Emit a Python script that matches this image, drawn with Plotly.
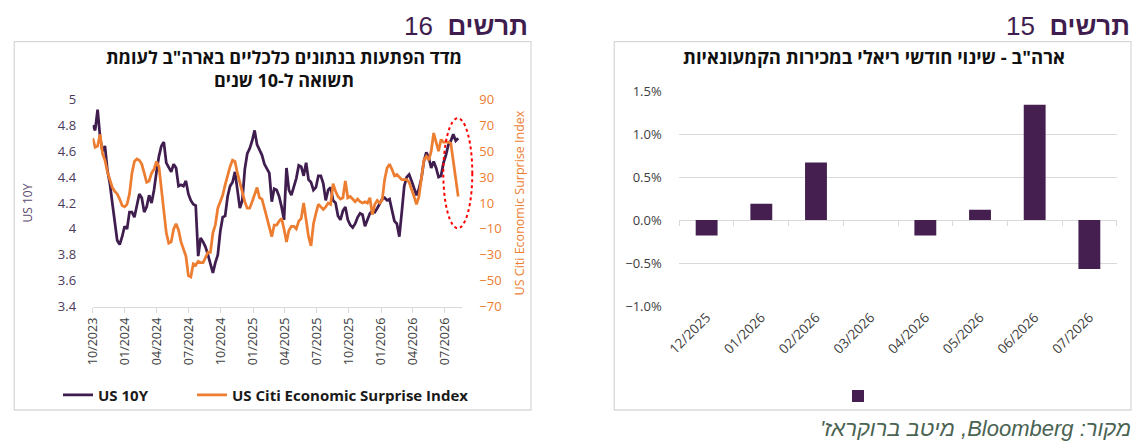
import pandas as pd
import plotly.graph_objects as go

# ---- chart 16: US 10Y vs Citi surprise index (weekly) ----
start_date = "2023-10-01"
us10y = [4.80, 4.76, 4.92, 4.71, 4.60, 4.64, 4.45, 4.35, 4.20, 4.06,
         3.91, 3.88, 3.94, 4.02, 4.00, 4.13, 4.13, 4.09, 4.18, 4.27,
         4.24, 4.13, 4.17, 4.26, 4.20, 4.30, 4.44, 4.56, 4.64, 4.67,
         4.51, 4.47, 4.44, 4.50, 4.47, 4.33, 4.34, 4.33, 4.37, 4.27,
         4.22, 4.19, 4.18, 3.79, 3.93, 3.90, 3.86, 3.80, 3.72, 3.66,
         3.74, 3.80, 3.98, 4.09, 4.10, 4.25, 4.33, 4.36, 4.44, 4.30,
         4.16, 4.22, 4.46, 4.58, 4.62, 4.68, 4.76, 4.65, 4.61, 4.57,
         4.50, 4.46, 4.43, 4.21, 4.31, 4.30, 4.25, 4.17, 4.07, 4.47,
         4.30, 4.26, 4.32, 4.39, 4.49, 4.48, 4.41, 4.51, 4.38, 4.36,
         4.30, 4.32, 4.41, 4.41, 4.35, 4.22, 4.30, 4.32, 4.22, 4.20,
         4.10, 4.07, 4.14, 4.17, 4.07, 4.03, 4.01, 4.04, 4.09, 4.12,
         4.11, 4.02, 4.07, 4.12, 4.14, 4.13, 4.16, 4.19, 4.23, 4.24,
         4.22, 4.23, 4.15, 4.06, 4.04, 3.94, 4.13, 4.33, 4.40, 4.42,
         4.37, 4.32, 4.26, 4.31, 4.39, 4.52, 4.59, 4.55, 4.47, 4.52,
         4.47, 4.40, 4.41, 4.51, 4.57, 4.65, 4.68, 4.73, 4.68, 4.70]
citi_surprise = [60, 53, 54, 63, 48, 43, 34, 28, 22, 19,
                 17, 13, 8, 7, 9, 17, 33, 42, 44, 43,
                 40, 33, 26, 27, 33, 36, 42, 38, 23, 4,
                 -13, -21, -20, -10, -6, -11, -20, -25, -31, -46,
                 -47, -37, -38, -35, -36, -36, -32, -28, -28, -13,
                 -7, 6, 11, 16, 24, 32, 38, 43, 42, 33,
                 25, 18, 11, 6, 6, 11, 16, 22, 14, 13,
                 6, -2, -10, -16, -7, -7, -4, -2, -10, -20,
                 -11, -8, -8, -10, -4, -2, 10, -5, -16, -23,
                 -6, 2, 9, 7, 5, 7, 10, 9, 25, 19,
                 15, 13, 14, 27, 14, 15, 13, 11, 13, 11,
                 10, 11, 10, 14, 1, 9, 12, 10, 12, 28,
                 37, 40, 36, 31, 32, 30, 28, 28, 28, 26,
                 21, 15, 9, 15, 29, 43, 46, 43, 50, 64,
                 57, 50, 59, 57, 57, 57, 56, 42, 32, 15]
dates = pd.date_range(start_date, periods=len(us10y), freq="7D")

# ---- chart 15: US real retail sales, monthly change (%) ----
months = ["12/2025", "01/2026", "02/2026", "03/2026",
          "04/2026", "05/2026", "06/2026", "07/2026"]
retail_change = [-0.18, 0.19, 0.67, 0.0, -0.18, 0.12, 1.34, -0.57]

# page body has an 8px margin, so the figure is drawn 8px in from the corner
OFF = 8
W, H = 1146 - OFF, 446 - OFF
PURPLE = "#3f1d4e"
ORANGE = "#ed7d31"
BAR = "#441f4f"
GRID = "#d9d9d9"
FONT = "Segoe UI, Open Sans, Liberation Sans, DejaVu Sans, sans-serif"
ARIAL = "Liberation Sans, Arial, DejaVu Sans, sans-serif"


def px_x(v):
    # screen pixel -> paper fraction
    return (v - OFF) / W


def px_y(v):
    return (H - (v - OFF)) / H


fig = go.Figure()

fig.add_trace(go.Scatter(x=dates, y=us10y, name="US 10Y", mode="lines",
                         line=dict(color=PURPLE, width=2.75),
                         xaxis="x", yaxis="y", legend="legend"))
fig.add_trace(go.Scatter(x=dates, y=citi_surprise, name="US Citi Economic Surprise Index",
                         mode="lines", line=dict(color=ORANGE, width=2.75),
                         xaxis="x", yaxis="y2", legend="legend3"))
fig.add_trace(go.Bar(x=months, y=retail_change, name=" ", marker_color=BAR,
                     marker_line_width=0, xaxis="x2", yaxis="y3", legend="legend2"))
# carrier for the category axis drawn on the zero line (boundary tick marks only)
fig.add_trace(go.Scatter(x=months, y=[0] * len(months), mode="lines", line=dict(width=0),
                         hoverinfo="skip", showlegend=False, xaxis="x3", yaxis="y3"))

legend_font = dict(size=15, color="#1a1a1a", weight="bold")

fig.update_layout(
    width=W, height=H,
    margin=dict(l=0, r=0, t=0, b=0, autoexpand=False),
    paper_bgcolor="white", plot_bgcolor="white",
    font=dict(family=FONT, color="#404040"),
    bargap=0.6,
    xaxis=dict(domain=[px_x(92.7), px_x(461.7)], anchor="y", type="date",
               range=["2023-10-01", "2026-08-19"], tick0="2023-10-01", dtick="M3",
               tickformat="%m/%Y", tickangle=-90, tickfont=dict(size=12.5, color="#404040"),
               ticks="outside", ticklen=5, tickcolor=GRID, showline=True, linecolor=GRID,
               linewidth=1, showgrid=False, zeroline=False, automargin=False),
    yaxis=dict(domain=[px_y(306.7), px_y(99.3)], range=[3.4, 5], dtick=0.2,
               showgrid=False, zeroline=False, showline=False, automargin=False,
               ticks="outside", ticklen=13, tickcolor="rgba(0,0,0,0)",
               tickfont=dict(size=13, color="#4a3a5c"),
               title=dict(text="US 10Y", font=dict(size=12, color="#5b4a6e"), standoff=22)),
    yaxis2=dict(overlaying="y", side="right", anchor="x", range=[-70, 90], tick0=-70, dtick=20,
                showgrid=False, zeroline=False, showline=False, automargin=False,
                ticks="outside", ticklen=14, tickcolor="rgba(0,0,0,0)",
                tickfont=dict(size=13, color=ORANGE),
                title=dict(text="US Citi Economic Surprise Index",
                           font=dict(size=12.5, color=ORANGE), standoff=14)),
    xaxis2=dict(domain=[px_x(679.3), px_x(1116.7)], anchor="y3", type="category",
                tickangle=-45, tickfont=dict(size=13.5, color="#404040"), automargin=False,
                showgrid=False, showline=False, zeroline=False, ticks=""),
    xaxis3=dict(overlaying="x2", matches="x2", anchor="free", position=px_y(220),
                type="category", showticklabels=False, ticks="outside", ticklen=5,
                tickcolor=GRID, tickson="boundaries", showline=False, showgrid=False,
                zeroline=False, automargin=False),
    yaxis3=dict(domain=[px_y(306), px_y(91)], anchor="x2", range=[-1.0, 1.5], dtick=0.5,
                tickformat=".1f", ticksuffix="%", showgrid=True, gridcolor=GRID, gridwidth=1,
                zeroline=True, zerolinecolor=GRID, zerolinewidth=1, showline=False,
                ticks="outside", ticklen=14, tickcolor="rgba(0,0,0,0)", automargin=False,
                tickfont=dict(size=13, color="#404040")),
    legend=dict(orientation="h", x=px_x(58), y=px_y(395), xanchor="left", yanchor="middle",
                font=legend_font, bgcolor="rgba(0,0,0,0)"),
    legend3=dict(orientation="h", x=px_x(192), y=px_y(395), xanchor="left", yanchor="middle",
                 font=legend_font, bgcolor="rgba(0,0,0,0)"),
    legend2=dict(orientation="h", x=px_x(838), y=px_y(396), xanchor="left", yanchor="middle",
                 font=dict(size=12), bgcolor="rgba(0,0,0,0)"),
    showlegend=True,
)

# panel frames
for x0, x1 in [(14.3, 531), (614.3, 1131)]:
    fig.add_shape(type="rect", xref="paper", yref="paper",
                  x0=px_x(x0), x1=px_x(x1), y0=px_y(410), y1=px_y(41.7),
                  line=dict(color=GRID, width=1.3), fillcolor="rgba(0,0,0,0)", layer="below")

# red dotted ellipse around the latest readings
fig.add_shape(type="circle", xref="paper", yref="paper",
              x0=px_x(443.3), x1=px_x(472.3), y0=px_y(228.3), y1=px_y(118.3),
              line=dict(color="#ff0000", width=2, dash="dot"))

# headings
fig.add_annotation(text="16  <b>תרשים</b>", xref="paper", yref="paper",
                   x=px_x(530), y=px_y(26), xanchor="right", yanchor="middle", showarrow=False,
                   font=dict(family=ARIAL, size=26, color=PURPLE))
fig.add_annotation(text="15  <b>תרשים</b>", xref="paper", yref="paper",
                   x=px_x(1132), y=px_y(26), xanchor="right", yanchor="middle", showarrow=False,
                   font=dict(family=ARIAL, size=26, color=PURPLE))

# chart titles
fig.add_annotation(text='<b>מדד הפתעות בנתונים כלכליים בארה"ב לעומת</b><br><b>תשואה ל-10 שנים</b>',
                   xref="paper", yref="paper", x=px_x(284), y=px_y(68),
                   xanchor="center", yanchor="middle", showarrow=False,
                   font=dict(size=18, color="#111111"))
fig.add_annotation(text='<b>ארה"ב - שינוי חודשי ריאלי במכירות הקמעונאיות</b>',
                   xref="paper", yref="paper", x=px_x(874), y=px_y(56),
                   xanchor="center", yanchor="middle", showarrow=False,
                   font=dict(size=18.5, color="#111111"))

# source
fig.add_annotation(text="\u202bמקור: Bloomberg, מיטב ברוקראז'\u202c",
                   xref="paper", yref="paper", x=px_x(1133), y=px_y(428),
                   xanchor="right", yanchor="middle", showarrow=False,
                   font=dict(family=ARIAL, size=22, color="#4a6352", style="italic"))

fig.write_html("out.html")
